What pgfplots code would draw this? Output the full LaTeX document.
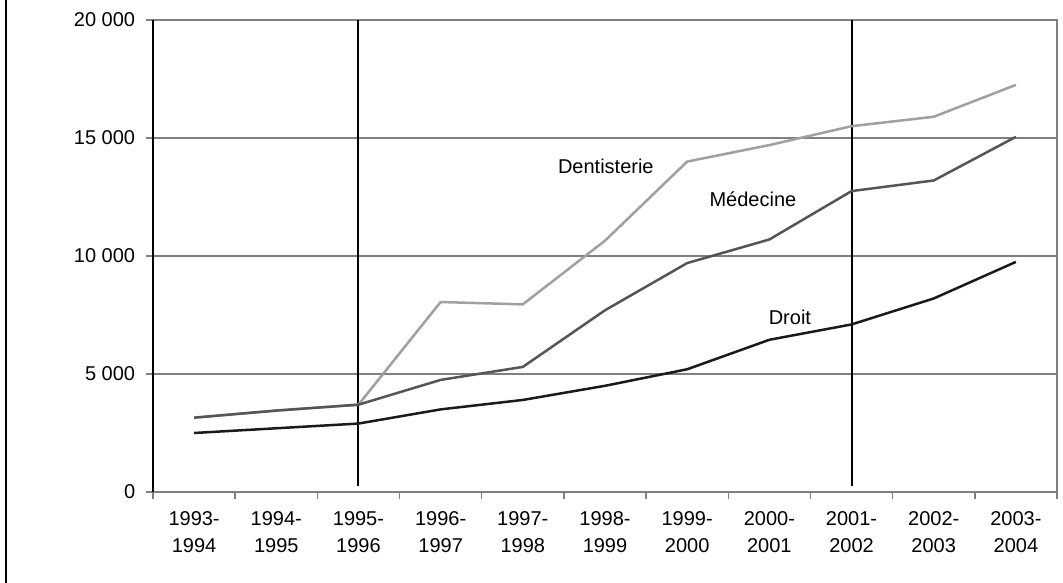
\documentclass[border=0pt]{standalone}
\usepackage{pgfplots}
\pgfplotsset{compat=1.18}
\usepackage{fontspec}
\setmainfont{Liberation Sans}
\definecolor{dent}{HTML}{A0A0A0}
\definecolor{med}{HTML}{555555}
\definecolor{droit}{HTML}{1A1A1A}
\definecolor{gridg}{HTML}{808080}
\begin{document}
\begin{tikzpicture}[x=1pt,y=1pt]
\useasboundingbox (0,0) rectangle (1063,583);
\draw[black,line width=2pt] (6,0) -- (6,583);
\fontsize{20}{27}\selectfont
\begin{axis}[
  at={(153pt,91pt)}, anchor=south west,
  scale only axis, width=904pt, height=472pt,
  xmin=-0.5, xmax=10.5, ymin=0, ymax=20000,
  xtick={0,...,10},
  xticklabels={{1993-\\1994},{1994-\\1995},{1995-\\1996},{1996-\\1997},{1997-\\1998},{1998-\\1999},{1999-\\2000},{2000-\\2001},{2001-\\2002},{2002-\\2003},{2003-\\2004}},
  xticklabel style={align=center, font=\fontsize{20}{27}\selectfont, yshift=-6pt},
  minor xtick={-0.5,0.5,...,10.5},
  major x tick style={draw=none},
  minor x tick style={gridg, line width=1.5pt},
  minor tick length=7pt,
  xtick pos=bottom, ytick pos=left,
  ytick={0,5000,10000,15000,20000},
  yticklabel style={font=\fontsize{20}{27}\selectfont, xshift=-4pt},
  y tick style={gridg, line width=1.5pt},
  major tick length=7pt,
  tick align=outside,
  ymajorgrids, grid style={gridg, line width=1.3pt},
  axis line style={gridg, line width=1.8pt},
  /pgf/number format/assume math mode=true,
  /pgf/number format/1000 sep={\ },
  scaled y ticks=false,
  clip=false,
]
\draw[black, line width=1.8pt] (axis cs:-0.5,0) -- (axis cs:-0.5,20000);
\draw[black, line width=2pt] (axis cs:2,250) -- (axis cs:2,20000);
\draw[black, line width=2pt] (axis cs:8,250) -- (axis cs:8,20000);
\addplot[dent, line width=2.5pt] coordinates {(0,3150) (1,3450) (2,3700) (3,8050) (4,7950) (5,10650) (6,14000) (7,14700) (8,15500) (9,15900) (10,17250)};
\addplot[med, line width=2.5pt] coordinates {(0,3150) (1,3450) (2,3700) (3,4750) (4,5300) (5,7700) (6,9700) (7,10700) (8,12750) (9,13200) (10,15050)};
\addplot[droit, line width=2.5pt] coordinates {(0,2500) (1,2700) (2,2900) (3,3500) (4,3900) (5,4500) (6,5200) (7,6450) (8,7100) (9,8200) (10,9750)};
\node[font=\fontsize{20}{27}\selectfont] at (axis cs:5.01,13813) {Dentisterie};
\node[font=\fontsize{20}{27}\selectfont] at (axis cs:6.8,12400) {Médecine};
\node[font=\fontsize{20}{27}\selectfont] at (axis cs:7.25,7415) {Droit};
\end{axis}
\end{tikzpicture}
\end{document}
